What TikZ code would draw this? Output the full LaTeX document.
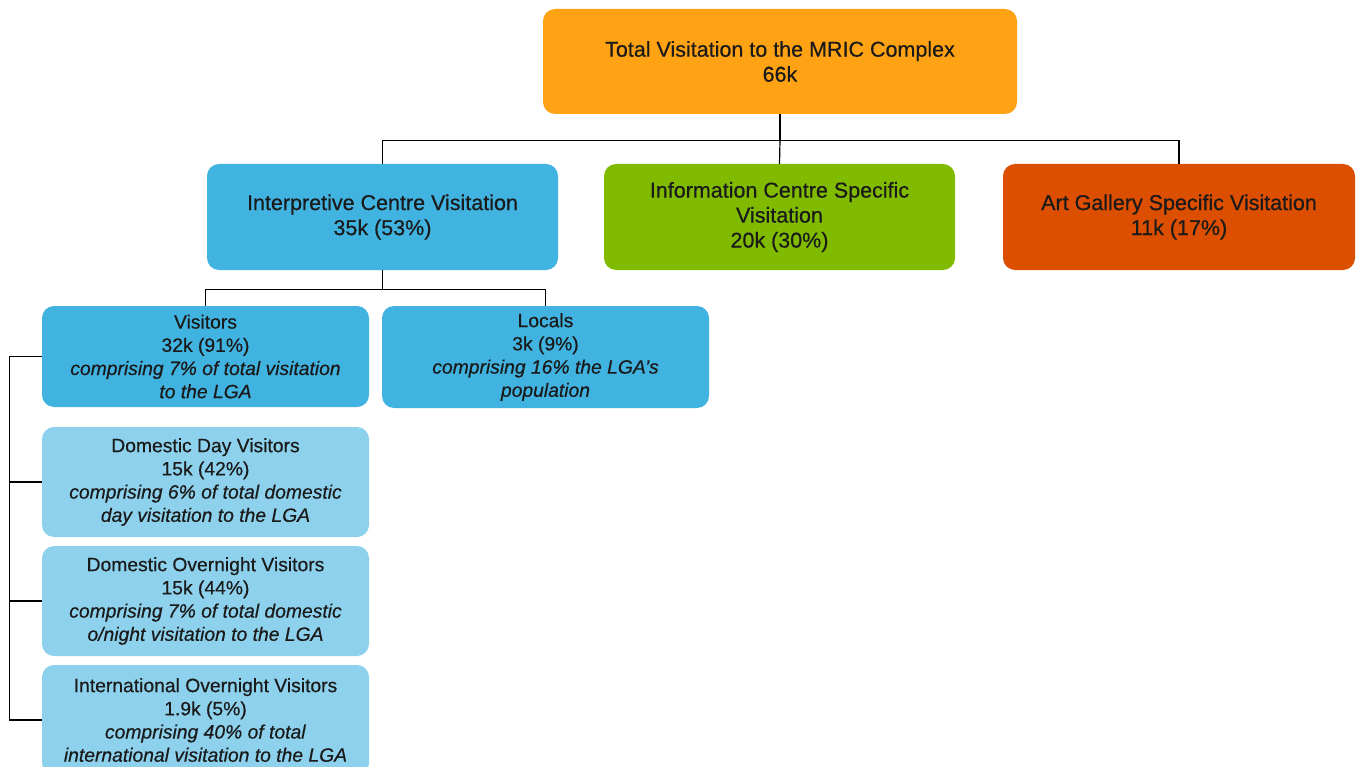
\documentclass[tikz,border=0pt]{standalone}
\usepackage{fontspec}
% medium-weight look: regular outlines slightly emboldened
\setmainfont{Liberation Sans}[
  BoldFont=Liberation Sans, BoldFeatures={FakeBold=0.45},
  BoldItalicFont=Liberation Sans Italic, BoldItalicFeatures={FakeBold=0.45}]
\definecolor{cOrange}{HTML}{FFA214}
\definecolor{cBlue}{HTML}{41B3E0}
\definecolor{cGreen}{HTML}{80BB00}
\definecolor{cRed}{HTML}{DC4E00}
\definecolor{cLight}{HTML}{8DD1EC}
\definecolor{cText}{HTML}{1A1A1A}
\begin{document}
\begin{tikzpicture}[x=1pt,y=-1pt,
  box/.style={rounded corners=12pt, align=center, text=cText, inner sep=0pt},
  bigbox/.style={box, font=\fontsize{21.5}{25}\selectfont\bfseries},
  smallbox/.style={box, font=\fontsize{19.3}{23.2}\selectfont\bfseries},
  link/.style={draw=black, line width=1.2pt}]
\useasboundingbox (0,0) rectangle (1359,767);
\clip (0,0) rectangle (1359,767);

% top level
\node[bigbox, fill=cOrange, minimum width=474pt, minimum height=105pt] (top) at (780,61.5)
  {Total Visitation to the MRIC Complex\\66k};

% second level
\node[bigbox, fill=cBlue, minimum width=351pt, minimum height=106pt] (interp) at (382.5,217)
  {Interpretive Centre Visitation\\35k (53\%)};
\node[bigbox, fill=cGreen, minimum width=351pt, minimum height=106pt] (info) at (779.5,217)
  {Information Centre Specific\\Visitation\\20k (30\%)};
\node[bigbox, fill=cRed, minimum width=352pt, minimum height=106pt] (art) at (1179,217)
  {Art Gallery Specific Visitation\\11k (17\%)};

% third level
\node[smallbox, fill=cBlue, minimum width=327pt, minimum height=101pt] (vis) at (205.5,356.5)
  {Visitors\\32k (91\%)\\\textit{comprising 7\% of total visitation}\\\textit{to the LGA}};
\node[smallbox, fill=cBlue, minimum width=327pt, minimum height=102pt] (loc) at (545.5,357)
  {Locals\\3k (9\%)\\\textit{comprising 16\% the LGA’s}\\\textit{population}};

% visitor breakdown
\node[smallbox, fill=cLight, minimum width=327pt, minimum height=110pt] (dd) at (205.5,482)
  {Domestic Day Visitors\\15k (42\%)\\\textit{comprising 6\% of total domestic}\\\textit{day visitation to the LGA}};
\node[smallbox, fill=cLight, minimum width=327pt, minimum height=110pt] (dov) at (205.5,601)
  {Domestic Overnight Visitors\\15k (44\%)\\\textit{comprising 7\% of total domestic}\\\textit{o/night visitation to the LGA}};
\node[smallbox, fill=cLight, minimum width=327pt, minimum height=110pt] (intl) at (205.5,720)
  {International Overnight Visitors\\1.9k (5\%)\\\textit{comprising 40\% of total}\\\textit{international visitation to the LGA}};

% connectors
\draw[link] (top.south) -- ++(0,26) coordinate (j1);
\draw[link] (j1) -| (interp.north);
\draw[link] (j1) -| (art.north);
\draw[link] (j1) -- (info.north);
\draw[link] (interp.south) -- ++(0,19) coordinate (j2);
\draw[link] (j2) -| (vis.north);
\draw[link] (j2) -| (loc.north);
\draw[link] (vis.west) -- ++(-32,0) coordinate (j3) |- (intl.west);
\draw[link] (j3) |- (dd.west);
\draw[link] (j3) |- (dov.west);
\end{tikzpicture}
\end{document}
